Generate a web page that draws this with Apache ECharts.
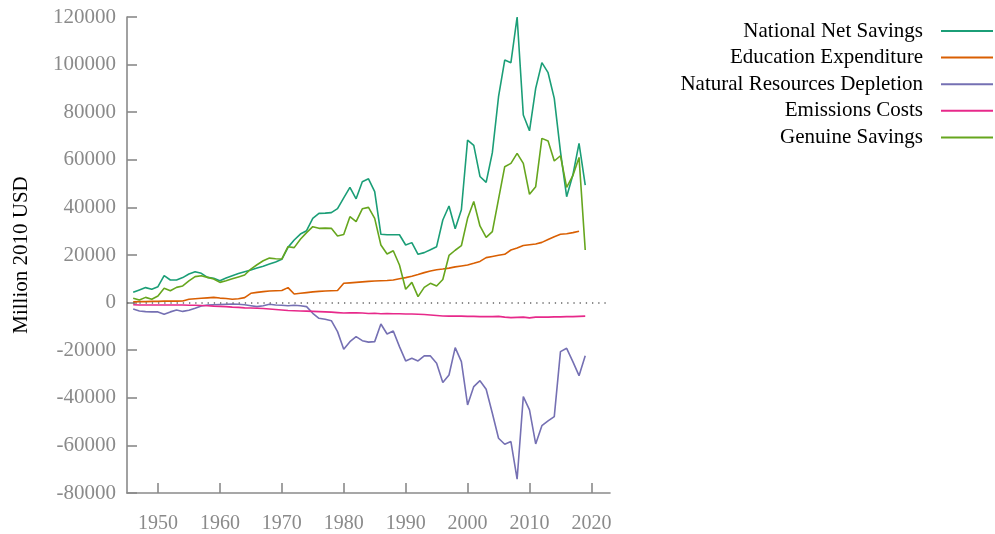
<!DOCTYPE html>
<html>
<head>
<meta charset="utf-8">
<script src="https://cdn.jsdelivr.net/npm/echarts@6.0.0/dist/echarts.min.js"></script>
<style>
  html, body { margin: 0; padding: 0; background: #fff; }
  #chart { width: 995px; height: 534px; }
</style>
</head>
<body>
<div id="chart"></div>
<script>
const years = [1946, 1947, 1948, 1949, 1950, 1951, 1952, 1953, 1954, 1955,
  1956, 1957, 1958, 1959, 1960, 1961, 1962, 1963, 1964, 1965,
  1966, 1967, 1968, 1969, 1970, 1971, 1972, 1973, 1974, 1975,
  1976, 1977, 1978, 1979, 1980, 1981, 1982, 1983, 1984, 1985,
  1986, 1987, 1988, 1989, 1990, 1991, 1992, 1993, 1994, 1995,
  1996, 1997, 1998, 1999, 2000, 2001, 2002, 2003, 2004, 2005,
  2006, 2007, 2008, 2009, 2010, 2011, 2012, 2013, 2014, 2015,
  2016, 2017, 2018, 2019];

const netSavings = [4300, 5300, 6300, 5600, 6700, 11300, 9500, 9500, 10500, 12000,
  13000, 12300, 10600, 10200, 9200, 10300, 11300, 12200, 13000, 13700,
  14500, 15300, 16200, 17100, 18200, 23200, 26300, 28800, 30200, 35400,
  37500, 37600, 37800, 39500, 44000, 48400, 43600, 50800, 52000, 46600,
  28700, 28500, 28500, 28500, 24200, 25200, 20300, 21000, 22200, 23500,
  34700, 40600, 31000, 39000, 68300, 66100, 53000, 50500, 63000, 86500,
  101900, 100800, 120000, 78800, 72200, 90000, 100800, 96600, 85800, 63400,
  44500, 53600, 66900, 49400];

const eduExpenditure = [300, 400, 400, 500, 500, 600, 600, 600, 700, 1400,
  1600, 1800, 2000, 2200, 1900, 1700, 1400, 1600, 2100, 3900,
  4300, 4600, 4900, 5000, 5100, 6300, 3600, 3900, 4200, 4500,
  4700, 4900, 5000, 5100, 8100, 8300, 8500, 8700, 8900, 9100,
  9200, 9300, 9500, 10000, 10500, 11100, 11800, 12600, 13300, 13800,
  14100, 14500, 15000, 15400, 15800, 16500, 17300, 18900, 19400, 19900,
  20300, 22100, 22900, 24000, 24300, 24600, 25300, 26500, 27700, 28700,
  28900, 29400, 30000, null];

const resDepletion = [-2700, -3500, -3800, -3900, -3900, -4900, -3900, -3100, -3700, -3200,
  -2400, -1400, -1000, -900, -800, -700, -600, -700, -900, -1300,
  -1700, -1300, -700, -1000, -1100, -1300, -1100, -1300, -1700, -4500,
  -6600, -7000, -7600, -12200, -19600, -16400, -14300, -16000, -16600, -16400,
  -9000, -13200, -11900, -18500, -24500, -23400, -24500, -22400, -22400, -25500,
  -33600, -30400, -18900, -24800, -43000, -35300, -32800, -36400, -46500, -57000,
  -59500, -58400, -74200, -39500, -45100, -59400, -51700, -49700, -47900, -20600,
  -19200, -24800, -30700, -22300];

const emissionsCosts = [-900, -1000, -1000, -1000, -1000, -1000, -1000, -1000, -1000, -1100,
  -1100, -1200, -1300, -1500, -1600, -1700, -1900, -2000, -2200, -2300,
  -2400, -2500, -2700, -2900, -3100, -3300, -3400, -3500, -3600, -3700,
  -3800, -3900, -4000, -4200, -4400, -4300, -4300, -4400, -4600, -4500,
  -4700, -4600, -4700, -4700, -4800, -4800, -4900, -5000, -5200, -5400,
  -5600, -5700, -5700, -5700, -5800, -5800, -5900, -5900, -5900, -5800,
  -6100, -6300, -6200, -6100, -6400, -6100, -6100, -6100, -6000, -6000,
  -5900, -5900, -5800, -5700];

const genuineSavings = [1800, 1100, 2200, 1400, 2800, 6000, 5000, 6400, 7000, 9100,
  10900, 11300, 10600, 9900, 8500, 9200, 10000, 10800, 11600, 14100,
  15900, 17600, 18700, 18400, 18300, 23500, 23100, 26600, 29400, 31900,
  31200, 31300, 31200, 28000, 28600, 36100, 34000, 39400, 40000, 35400,
  24200, 20400, 21800, 15800, 5600, 8500, 2500, 6400, 8100, 7000,
  9700, 19800, 22000, 23900, 35400, 42500, 32200, 27400, 29800, 43500,
  57100, 58500, 62700, 58500, 45500, 48700, 69000, 67900, 59500, 61700,
  48400, 53300, 61000, 22100];

const xTicks = [1950, 1960, 1970, 1980, 1990, 2000, 2010, 2020];

const seriesNames = ['National Net Savings', 'Education Expenditure', 'Natural Resources Depletion', 'Emissions Costs', 'Genuine Savings'];
const seriesValues = [netSavings, eduExpenditure, resDepletion, emissionsCosts, genuineSavings];
const colors = ['#1b9e77', '#d95f02', '#7570b3', '#e7298a', '#66a61e'];

const font = 'Liberation Serif, Times New Roman, serif';
const axisGray = '#8a8a8a';

const chart = echarts.init(document.getElementById('chart'));

const series = seriesNames.map((name, k) => ({
  name: name,
  type: 'line',
  symbol: 'none',
  lineStyle: { width: 1.6, color: colors[k] },
  itemStyle: { color: colors[k] },
  data: years.map((y, i) => [y, seriesValues[k][i]]),
}));

// dotted zero line
series[0].markLine = {
  silent: true,
  symbol: 'none',
  label: { show: false },
  lineStyle: { color: '#666', width: 1.5, type: [1.3, 4.9] },
  data: [{ yAxis: 0 }],
};

chart.setOption({
  animation: false,
  color: colors,
  grid: { left: 127, right: 385, top: 17, bottom: 41 },
  legend: {
    orient: 'vertical',
    right: 2,
    top: 20,
    padding: 0,
    align: 'right',
    icon: 'rect',
    itemWidth: 52,
    itemHeight: 2,
    itemGap: 4.6,
    textStyle: { fontFamily: font, fontSize: 21, lineHeight: 22, color: '#000', padding: [0, 13, 0, 0] },
    data: seriesNames,
  },
  xAxis: {
    type: 'value',
    min: 1945,
    max: 2023,
    axisLine: { show: true, onZero: false, lineStyle: { color: axisGray, width: 1.6 } },
    axisTick: { show: true, inside: true, length: 10, customValues: xTicks, lineStyle: { color: axisGray, width: 1.6 } },
    axisLabel: { customValues: xTicks, fontFamily: font, fontSize: 20, color: axisGray, margin: 21, formatter: (v) => String(v) },
    splitLine: { show: false },
  },
  yAxis: {
    type: 'value',
    min: -80000,
    max: 120000,
    interval: 20000,
    name: 'Million 2010 USD',
    nameLocation: 'middle',
    nameGap: 95,
    nameTextStyle: { fontFamily: font, fontSize: 21, color: '#000' },
    axisLine: { show: true, lineStyle: { color: axisGray, width: 1.6 } },
    axisTick: { show: true, inside: true, length: 10, lineStyle: { color: axisGray, width: 1.6 } },
    axisLabel: { fontFamily: font, fontSize: 21, color: axisGray, margin: 11, formatter: (v) => String(v) },
    splitLine: { show: false },
  },
  series: series,
});
</script>
</body>
</html>
